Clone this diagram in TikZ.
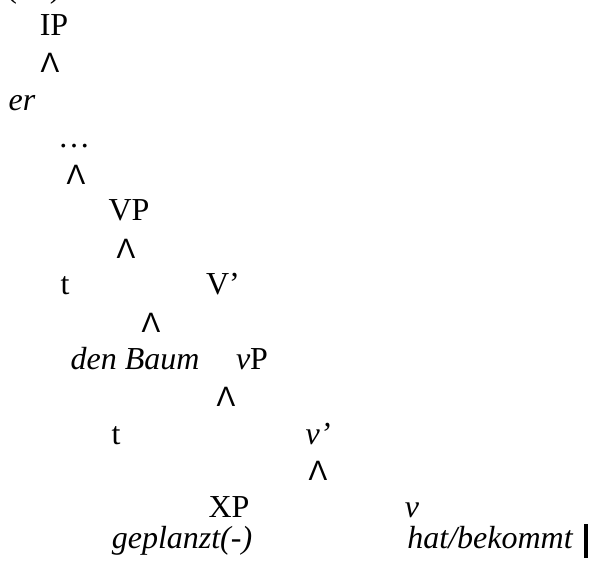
\documentclass[tikz,border=0pt]{standalone}
\usepackage{fontspec}
\setmainfont{Liberation Serif}
\newfontfamily\roofont{Liberation Sans}
\usetikzlibrary{positioning}

\begin{document}
\begin{tikzpicture}[on grid,
    label node/.style={inner sep=0pt,text height=10.5pt,text depth=3pt,
      font=\fontsize{16}{19}\selectfont},
    word node/.style={label node,font=\fontsize{16}{19}\selectfont\itshape},
    roof node/.style={label node,font=\roofont\fontsize{14}{17}\selectfont}]
    \useasboundingbox (0,0) rectangle (297pt,-281.5pt);
    % nodes
      \node[label node] (IP) at (27pt,-13.75pt) {IP};
      \node[label node] (num) [above left = 18.8pt and 10.25pt of IP] {(\hspace{16.5pt})};
      \node[roof node] (roof1) [below left = 18.5pt and 2pt of IP] {Λ};
      \node[word node] (er) [below left = 19pt and 14pt of roof1] {er};
      \node[label node] (dots) [below right = 18.5pt and 26pt of er] {\dots};
      \node[roof node] (roof2) [below right = 18.5pt and 1pt of dots] {Λ};
      \node[label node] (VP) [below right = 18pt and 26.5pt of roof2] {VP};
      \node[roof node] (roof3) [below left = 19pt and 1.5pt of VP] {Λ};
      \node[label node] (t1) [below left = 18pt and 30.5pt of roof3] {t};
      \node[label node] (Vbar) [below right = 18pt and 48.5pt of roof3] {V'};
      \node[roof node] (roof4) [below right = 37pt and 12.5pt of roof3] {Λ};
      \node[word node] (obj) [below left = 18.5pt and 8pt of roof4] {den Baum};
      \node[label node] (vP) [below right = 18.5pt and 50.5pt of roof4] {\textit{v}P};
      \node[roof node] (roof5) [below left = 18.5pt and 13pt of vP] {Λ};
      \node[label node] (t2) [below left = 19pt and 55pt of roof5] {t};
      \node[word node] (vbar) [below right = 19pt and 46pt of roof5] {v'};
      \node[roof node] (roof6) [below = 18pt of vbar] {Λ};
      \node[label node] (XP) [below left = 18.5pt and 44.5pt of roof6] {XP};
      \node[word node] (v) [below right = 18.5pt and 47pt of roof6] {v};
      \node[word node] (part) [below left = 15.5pt and 23.5pt of XP] {geplanzt(-)};
      \node[word node] (aux) [below right = 15.5pt and 39pt of v] {hat/bekommt};
      \node[fill,inner sep=0pt,minimum width=2pt,minimum height=17pt] (bar)
        [right = 48pt of aux] {};
\end{tikzpicture}
\end{document}
